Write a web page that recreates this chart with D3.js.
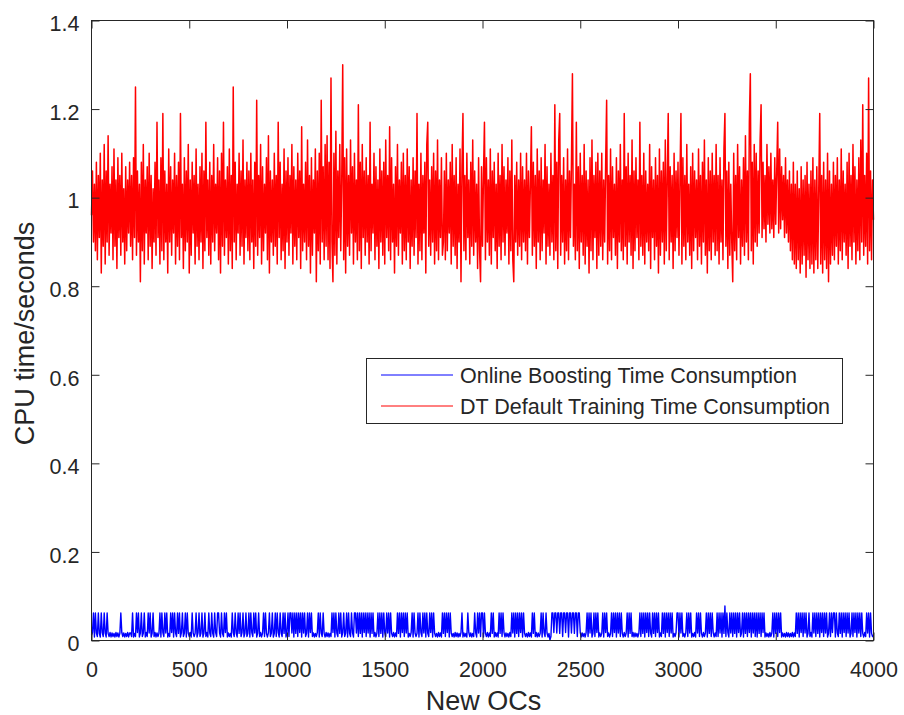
<!DOCTYPE html>
<html><head><meta charset="utf-8">
<script src="https://cdn.jsdelivr.net/npm/d3@7"></script>
<style>
body{margin:0;background:#fff}
svg{display:block}
text{font-family:"Liberation Sans",Arial,Helvetica,sans-serif;fill:#262626}
</style>
</head><body>
<svg id="chart" width="904" height="715"></svg>
<script>
// ---------- data ----------
const xTicks = [0, 500, 1000, 1500, 2000, 2500, 3000, 3500, 4000];
const xTickLabels = ["0","500","1000","1500","2000","2500","3000","3500","4000"];
const yTicks = [0, 0.2, 0.4, 0.6, 0.8, 1.0, 1.2, 1.4];
const yTickLabels = ["0","0.2","0.4","0.6","0.8","1","1.2","1.4"];
const seriesNames = ["Online Boosting Time Consumption", "DT Default Training Time Consumption"];
const xLabel = "New OCs";
const yLabel = "CPU time/seconds";
const sampleStep = 5; // one stored sample per 5 new OCs

// DT default training time (seconds), samples at OC = 0,5,10,...,4000
const redValues = [
.96,1.06,.90,1.03,.88,1.08,.86,1.05,.91,1.10,.83,1.04,.89,1.12,.85,1.06,.90,1.14,.87,1.03,.92,1.07,.86,1.11,.89,1.04,.84,1.09,.91,1.05,.87,1.10,.90,1.02,.85,1.07,.88,1.04,.92,1.08,
.89,1.05,.86,1.09,.91,1.25,.87,1.06,.90,1.03,.81,1.08,.88,1.12,.85,1.04,.92,1.07,.86,1.10,.89,1.05,.84,1.02,.90,1.08,.87,1.17,.91,1.04,.85,1.09,.88,1.19,.86,1.06,.90,1.03,.83,1.11,
.90,1.07,.87,1.04,.92,1.10,.85,1.05,.89,1.08,.86,1.19,.91,1.03,.84,1.09,.88,1.06,.90,1.12,.83,1.04,.87,1.08,.92,1.05,.85,1.11,.89,1.03,.86,1.07,.90,1.10,.84,1.06,.88,1.17,.91,1.04,
.87,1.08,.85,1.05,.90,1.12,.88,1.03,.92,1.09,.86,1.06,.83,1.10,.89,1.17,.87,1.04,.91,1.07,.85,1.11,.88,1.05,.84,1.25,.90,1.08,.86,1.03,.92,1.10,.87,1.06,.89,1.13,.85,1.04,.91,1.08,
.88,1.06,.86,1.10,.90,1.04,.84,1.08,.89,1.22,.87,1.05,.91,1.12,.85,1.07,.88,1.03,.92,1.09,.86,1.14,.83,1.06,.90,1.04,.87,1.10,.89,1.05,.85,1.17,.91,1.08,.86,1.03,.88,1.11,.84,1.06,
.90,1.09,.87,1.05,.92,1.12,.85,1.07,.89,1.04,.86,1.10,.91,1.06,.84,1.16,.88,1.03,.90,1.08,.86,1.13,.89,1.05,.83,1.09,.87,1.04,.92,1.11,.81,1.06,.88,1.10,.85,1.22,.90,1.07,.86,1.12,
.89,1.14,.86,1.08,.84,1.27,.90,.81,1.10,.87,1.15,.85,1.06,.91,1.12,.88,1.04,1.30,.86,1.09,.83,1.11,.89,1.05,.87,1.13,.92,1.07,.85,1.10,.90,1.04,.86,1.21,.88,1.08,.84,1.12,.91,1.06,
.87,1.09,.90,1.05,.85,1.17,.88,1.03,.92,1.10,.86,1.07,.89,1.04,.84,1.11,.90,1.06,.87,1.08,.85,1.13,.91,1.05,.88,1.16,.86,1.09,.90,1.03,.83,1.07,.89,1.12,.87,1.04,.92,1.08,.85,1.10,
.88,1.05,.86,1.11,.90,1.07,.84,1.04,.89,1.09,.87,1.06,.91,1.19,.85,1.03,.88,1.10,.86,1.05,.92,1.08,.83,1.12,1.17,.89,1.04,.87,1.07,.90,1.10,.85,1.06,.88,1.13,.86,1.04,.91,1.09,.87,
.90,1.06,.86,1.10,.88,1.04,.92,1.08,.85,1.12,.89,1.05,.87,1.09,.84,1.03,.90,1.11,.81,1.07,1.19,.88,1.05,.86,1.10,.91,1.04,.85,1.08,.89,1.13,.87,1.06,.90,1.03,.84,1.09,.88,.81,1.07,
.89,1.05,1.17,.86,1.09,.90,1.04,.87,1.11,.85,1.06,.91,1.08,.88,1.03,.84,1.10,.89,1.05,.86,1.12,.90,1.07,.87,1.04,.92,1.09,.85,1.06,.88,1.13,.86,.81,1.05,.90,1.08,.87,1.04,.89,1.10,
.86,1.07,.90,1.04,.88,1.10,.85,1.06,.91,1.03,1.16,.87,1.08,.89,1.05,.84,1.11,.90,1.06,.86,1.09,.88,1.04,.92,1.12,.85,1.07,.89,1.03,.87,1.10,.90,1.05,.86,1.21,.88,1.08,.84,1.13,1.19,
.87,1.05,.90,1.09,.85,1.04,.88,1.11,.86,1.06,.91,1.08,1.28,.89,1.03,.86,1.17,.88,1.07,.84,1.10,.90,1.05,.87,1.12,.85,1.06,.89,1.04,.83,1.09,.88,1.13,.86,1.05,.91,1.08,.84,1.10,.87,
1.06,.89,1.10,.86,1.04,.90,1.08,1.22,.85,1.05,.88,1.11,.86,1.07,.91,1.03,.87,1.09,.84,1.06,.90,1.12,.88,1.04,.86,1.19,.89,1.07,.85,1.10,.90,1.05,.87,1.13,.84,1.06,.88,1.09,.91,1.04,
.86,1.17,.89,1.05,.87,1.10,.85,1.06,.90,1.03,.88,1.12,.84,1.07,.91,1.04,.86,1.09,.89,1.05,.83,1.11,.87,1.06,.90,1.08,.85,1.13,.88,1.04,1.19,.86,1.07,.90,1.05,.84,1.10,.88,1.06,.91,
1.08,.87,1.04,1.19,.85,1.09,.89,1.05,.86,1.12,.90,1.03,.87,1.07,.84,1.10,.88,1.06,.91,1.04,.86,1.11,.89,1.05,.85,1.08,.90,1.13,.87,1.04,.83,1.09,.88,1.06,.86,1.10,.90,1.05,.87,1.12,
.88,1.05,.85,1.09,.90,1.04,.86,1.11,1.19,.89,1.06,.84,1.08,.87,1.03,.90,.81,1.10,.88,1.05,.86,1.12,.91,1.07,.85,1.04,.89,1.09,.87,1.14,.90,1.06,.86,1.17,1.28,.88,1.08,.85,1.12,.90,
1.10,.89,1.06,.92,1.13,1.21,.91,1.08,.93,1.05,.90,1.12,.94,1.07,.92,1.10,.93,1.04,.91,1.09,.94,1.06,1.17,.92,1.11,.93,1.07,.95,1.05,.91,1.09,.92,1.04,.90,1.06,.88,1.03,.86,1.08,.85,
1.03,.84,1.06,.86,1.02,.83,1.07,.85,1.04,.87,1.05,.82,1.08,.86,1.03,.84,1.06,.85,1.09,.83,1.04,.86,1.07,.84,1.02,1.19,.85,1.05,.83,1.08,.86,1.04,.84,1.10,.81,1.06,.85,1.03,.87,1.08,
.86,1.05,.89,1.09,.85,1.04,.88,1.11,.86,1.06,.90,1.03,.87,1.08,.84,1.10,.89,1.05,.86,1.12,.90,1.07,.85,1.04,.88,1.09,.86,1.13,.90,1.21,.87,1.05,.89,1.10,.85,1.27,.88,1.06,.86,1.04,
.95
];

// Online boosting time (seconds), samples at OC = 0,5,10,...,4000
const blueValues = [
.012,.018,.062,.008,.062,.017,.009,.062,.016,.008,.062,.018,.009,.062,.017,.008,.062,.016,.009,.018,.008,.017,.009,.016,.008,.018,.009,.017,.008,.016,.062,.018,.009,.017,.008,.016,.009,.018,.008,.017,
.017,.009,.062,.008,.016,.009,.062,.018,.062,.008,.017,.062,.009,.016,.062,.008,.018,.009,.062,.017,.062,.008,.016,.062,.009,.018,.008,.017,.009,.016,.062,.008,.062,.018,.009,.062,.017,.062,.008,.016,
.009,.062,.018,.062,.008,.062,.017,.009,.062,.016,.062,.008,.018,.062,.009,.017,.062,.008,.062,.016,.009,.018,.008,.062,.017,.009,.016,.062,.008,.018,.062,.009,.017,.062,.008,.016,.062,.009,.018,.008,
.062,.017,.009,.062,.016,.008,.062,.018,.009,.062,.062,.017,.008,.062,.016,.009,.062,.018,.062,.008,.017,.009,.016,.008,.062,.018,.009,.062,.017,.008,.062,.016,.062,.009,.018,.062,.008,.017,.062,.009,
.016,.062,.008,.062,.018,.009,.062,.017,.062,.008,.016,.062,.009,.018,.008,.017,.062,.009,.062,.016,.008,.018,.062,.009,.017,.062,.008,.016,.062,.009,.062,.018,.008,.062,.017,.009,.062,.016,.062,.008,
.018,.062,.009,.062,.062,.017,.062,.008,.062,.016,.062,.009,.062,.018,.062,.008,.062,.017,.062,.009,.016,.062,.008,.062,.018,.062,.009,.017,.008,.016,.009,.018,.062,.008,.062,.017,.009,.062,.016,.008,
.018,.009,.017,.008,.016,.009,.062,.018,.062,.008,.062,.017,.009,.062,.016,.062,.008,.018,.062,.009,.017,.062,.008,.062,.016,.009,.062,.018,.008,.062,.062,.017,.062,.009,.062,.016,.062,.008,.062,.018,
.062,.009,.062,.017,.062,.008,.062,.016,.062,.009,.018,.008,.017,.062,.009,.062,.016,.062,.008,.062,.018,.009,.062,.017,.062,.008,.062,.016,.009,.018,.008,.017,.009,.062,.016,.062,.008,.062,.018,.062,
.009,.062,.017,.062,.008,.016,.009,.018,.062,.008,.062,.017,.009,.016,.062,.008,.062,.018,.009,.062,.017,.062,.008,.062,.016,.009,.062,.018,.062,.008,.062,.017,.009,.016,.008,.018,.009,.017,.008,.062,
.016,.062,.009,.062,.018,.062,.008,.062,.017,.009,.016,.008,.018,.009,.017,.008,.016,.009,.018,.062,.008,.017,.009,.016,.008,.062,.018,.009,.017,.008,.016,.009,.062,.018,.008,.062,.017,.062,.009,.062,
.062,.008,.062,.016,.009,.018,.008,.017,.009,.062,.016,.062,.008,.018,.009,.017,.008,.062,.016,.062,.009,.062,.018,.008,.017,.009,.016,.008,.018,.009,.062,.017,.062,.008,.062,.016,.062,.009,.062,.018,
.062,.008,.062,.017,.009,.016,.008,.018,.009,.017,.008,.062,.016,.062,.009,.018,.008,.017,.009,.016,.062,.008,.062,.018,.009,.062,.017,.008,.016,.001,.009,.062,.062,.018,.062,.062,.017,.062,.062,.016,
.062,.062,.009,.062,.062,.018,.062,.062,.008,.062,.062,.017,.062,.062,.016,.062,.062,.009,.062,.062,.018,.008,.017,.009,.016,.008,.018,.062,.009,.062,.017,.062,.008,.016,.062,.009,.062,.018,.062,.008,
.017,.009,.016,.062,.008,.062,.018,.062,.009,.017,.008,.016,.062,.009,.062,.018,.062,.008,.062,.017,.062,.009,.062,.016,.008,.018,.009,.017,.062,.008,.062,.016,.062,.009,.018,.008,.017,.009,.016,.008,
.017,.062,.009,.062,.016,.062,.008,.062,.018,.062,.009,.062,.017,.008,.062,.016,.062,.009,.062,.018,.062,.008,.017,.009,.062,.016,.062,.008,.062,.018,.062,.009,.062,.017,.062,.008,.016,.009,.018,.062,
.062,.008,.062,.017,.062,.009,.016,.008,.018,.062,.009,.062,.017,.062,.008,.016,.009,.018,.008,.062,.017,.062,.009,.062,.016,.008,.018,.009,.017,.062,.008,.062,.016,.062,.009,.062,.018,.008,.017,.009,
.062,.009,.062,.017,.062,.008,.062,.016,.078,.009,.062,.018,.008,.062,.017,.062,.009,.062,.016,.062,.008,.062,.018,.062,.009,.017,.062,.008,.062,.016,.062,.009,.062,.018,.062,.008,.062,.017,.062,.009,
.062,.008,.062,.016,.062,.009,.062,.018,.062,.008,.017,.009,.016,.008,.018,.009,.017,.062,.008,.062,.016,.062,.009,.062,.018,.062,.008,.017,.009,.016,.008,.018,.009,.017,.008,.016,.009,.018,.008,.017,
.009,.062,.016,.062,.008,.062,.018,.062,.009,.062,.017,.062,.008,.016,.062,.009,.018,.008,.062,.017,.062,.009,.062,.016,.062,.008,.062,.018,.062,.009,.062,.017,.062,.008,.016,.062,.009,.062,.018,.062,
.062,.008,.062,.017,.009,.062,.016,.062,.008,.062,.018,.062,.009,.062,.017,.062,.008,.016,.062,.009,.062,.018,.062,.008,.062,.017,.062,.009,.062,.016,.008,.018,.009,.062,.017,.062,.008,.062,.016,.009,
.012
];

// ---------- layout ----------
const plot = {left: 91.5, right: 873.5, top: 20.5, bottom: 640.5};
const axisColor = "#262626";
const svg = d3.select("#chart");

const x = d3.scaleLinear().domain([0, 4000]).range([plot.left, plot.right]);
const y = d3.scaleLinear().domain([0, 1.4]).range([plot.bottom, plot.top]);

const toPoints = vals => vals.map((v, i) => ({oc: i * sampleStep, t: v}));
const blueData = toPoints(blueValues);
const redData = toPoints(redValues);

const line = d3.line().x(d => x(d.oc)).y(d => y(d.t));

svg.append("path").datum(blueData)
  .attr("d", line).attr("fill", "none").attr("stroke", "#0000ff")
  .attr("stroke-width", 1.4).attr("stroke-linejoin", "round");
svg.append("path").datum(redData)
  .attr("d", line).attr("fill", "none").attr("stroke", "#ff0000")
  .attr("stroke-width", 1.5).attr("stroke-linejoin", "round");

// axes
const tickLen = 8;
const fmtX = (d, i) => xTickLabels[i];
const fmtY = (d, i) => yTickLabels[i];

const gB = svg.append("g").attr("transform", `translate(0,${plot.bottom})`)
  .call(d3.axisBottom(x).tickValues(xTicks).tickFormat(fmtX).tickSizeInner(-tickLen).tickSizeOuter(0).tickPadding(21));
const gT = svg.append("g").attr("transform", `translate(0,${plot.top})`)
  .call(d3.axisTop(x).tickValues(xTicks).tickFormat("").tickSizeInner(-tickLen).tickSizeOuter(0));
const gL = svg.append("g").attr("transform", `translate(${plot.left},0)`)
  .call(d3.axisLeft(y).tickValues(yTicks).tickFormat(fmtY).tickSizeInner(-tickLen).tickSizeOuter(0).tickPadding(12));
const gR = svg.append("g").attr("transform", `translate(${plot.right},0)`)
  .call(d3.axisRight(y).tickValues(yTicks).tickFormat("").tickSizeInner(-tickLen).tickSizeOuter(0));

[gB, gT, gL, gR].forEach(g => {
  g.select(".domain").remove();
  g.selectAll("line").attr("stroke", axisColor);
  g.selectAll("text").attr("fill", axisColor).style("font-size", "21.5px")
    .style("font-family", '"Liberation Sans", Arial, sans-serif');
});
gL.selectAll("text").attr("dy", "0.48em");

svg.append("rect")
  .attr("x", plot.left).attr("y", plot.top)
  .attr("width", plot.right - plot.left).attr("height", plot.bottom - plot.top)
  .attr("fill", "none").attr("stroke", axisColor).attr("stroke-width", 1);

// axis labels
svg.append("text").attr("x", (plot.left + plot.right) / 2 + 1).attr("y", 710)
  .attr("text-anchor", "middle").style("font-size", "27px").text(xLabel);
svg.append("text").attr("transform", `translate(34,${(plot.top + plot.bottom) / 2 + 3}) rotate(-90)`)
  .attr("text-anchor", "middle").style("font-size", "27px").text(yLabel);

// legend
const lg = svg.append("g");
lg.append("rect").attr("x", 366.5).attr("y", 358.5).attr("width", 476).attr("height", 65)
  .attr("fill", "#fff").attr("stroke", axisColor).attr("stroke-width", 1);
const legendColors = ["#0000ff", "#ff0000"];
seriesNames.forEach((name, i) => {
  const ly = 375 + i * 31;
  lg.append("line").attr("x1", 381).attr("x2", 453).attr("y1", ly).attr("y2", ly)
    .attr("stroke", legendColors[i]).attr("stroke-width", 1);
  lg.append("text").attr("x", 460).attr("y", ly).attr("dy", "0.36em")
    .style("font-size", "21.5px").text(name);
});
</script>
</body></html>
